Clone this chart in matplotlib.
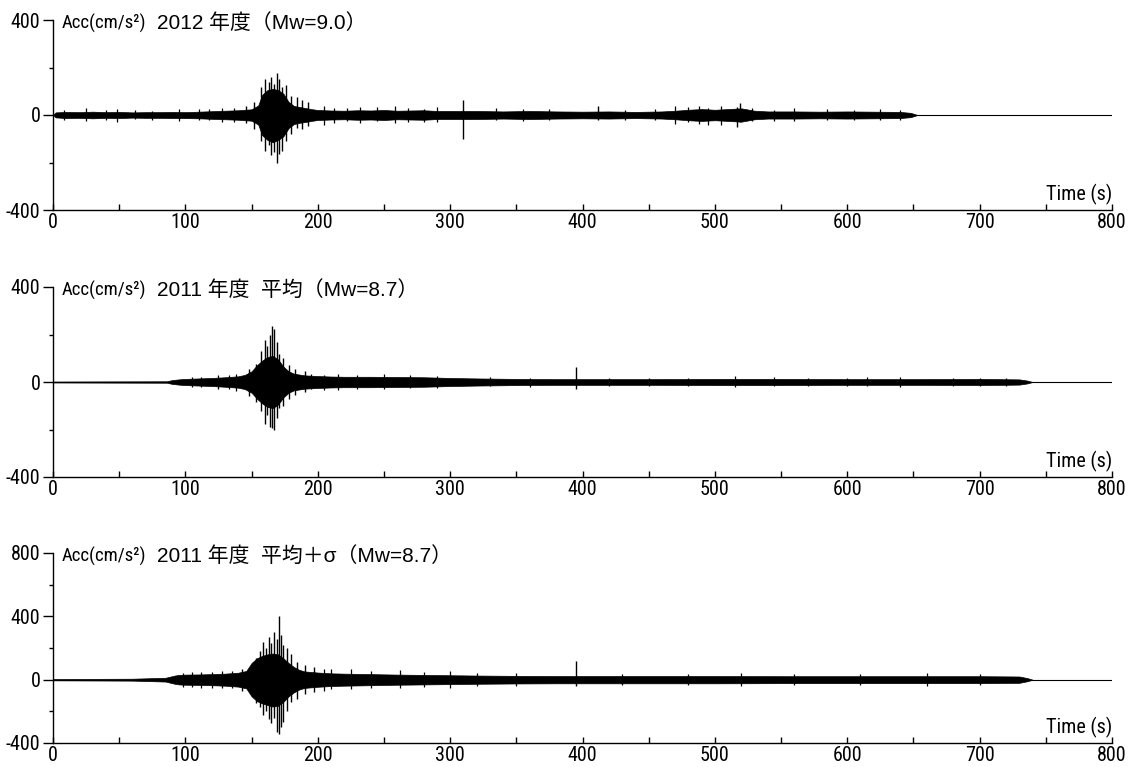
import matplotlib
matplotlib.use("Agg")
import matplotlib.pyplot as plt
from matplotlib import font_manager
from matplotlib.ticker import MultipleLocator

# ---- data (envelope of each record + visible peaks) ----
# 2012 (Mw=9.0)
t1 = [0, 2, 10, 20, 30, 40, 50, 60, 70, 80, 90, 100, 110, 120, 130, 140, 150, 155, 158, 162,
      166, 170, 174, 178, 182, 186, 190, 195, 200, 210, 220, 230, 240, 250, 260, 270, 280, 290, 300, 320,
      340, 360, 380, 400, 420, 440, 460, 470, 480, 490, 500, 510, 520, 530, 540, 560, 580, 600, 620, 640,
      648, 653]
up1 = [0, 11, 13, 12, 14, 12, 13, 11, 12, 12, 13, 12, 14, 16, 18, 20, 24, 40, 85, 105,
       110, 105, 90, 55, 38, 34, 30, 25, 21, 19, 18, 20, 19, 21, 18, 19, 20, 17, 17, 17,
       15, 17, 15, 14, 15, 13, 15, 18, 22, 25, 22, 25, 28, 18, 15, 15, 14, 15, 14, 13,
       9, 0]
lo1 = [0, -10, -13, -12, -14, -12, -13, -11, -12, -12, -13, -13, -14, -16, -18, -20, -24, -40, -85, -105,
       -115, -105, -90, -55, -38, -33, -30, -25, -21, -19, -18, -20, -19, -21, -18, -19, -20, -17, -17, -17,
       -15, -17, -15, -14, -15, -13, -15, -18, -22, -25, -22, -25, -28, -18, -15, -15, -14, -15, -14, -13,
       -9, 0]
pk_t1 = [146, 152, 157, 160, 163, 165, 167, 169, 171, 173, 176, 180, 184, 188, 193, 310, 412, 517, 519]
pk_hi1 = [38, 55, 120, 150, 140, 160, 130, 178, 150, 120, 125, 80, 75, 65, 55, 62, 40, 35, 50]
pk_lo1 = [-35, -60, -110, -150, -125, -170, -155, -200, -165, -150, -110, -80, -55, -60, -45, -100, -22, -50, -30]
rp_t1 = [8, 25, 40, 48, 62, 75, 95, 110, 118, 128, 137, 205, 212, 222, 232, 245, 258, 268, 280, 290,
         335, 355, 375, 432, 455, 470, 480, 488, 495, 505, 528, 545, 560, 585, 605, 625, 640]
rp_hi1 = [22, 28, 20, 25, 22, 18, 26, 24, 26, 30, 30, 40, 30, 28, 35, 32, 38, 30, 26, 32,
          28, 25, 24, 22, 24, 38, 35, 40, 30, 40, 30, 22, 28, 24, 22, 24, 22]
rp_lo1 = [-20, -25, -22, -28, -18, -22, -24, -22, -20, -30, -28, -40, -32, -26, -35, -25, -33, -28, -30, -30,
          -22, -24, -20, -20, -22, -38, -30, -38, -42, -42, -26, -24, -25, -22, -20, -22, -20]

# 2011 mean (Mw=8.7)
t2 = [0, 86, 90, 95, 100, 110, 120, 130, 140, 145, 150, 154, 158, 162, 166, 170, 174, 178, 182, 190,
      200, 210, 220, 240, 260, 280, 300, 320, 350, 380, 400, 450, 500, 550, 600, 650, 700, 730, 736, 740]
up2 = [2, 3, 8, 11, 13, 15, 17, 20, 24, 30, 45, 70, 90, 105, 110, 95, 65, 45, 35, 28,
       25, 23, 22, 22, 21, 20, 17, 15, 13, 12, 12, 12, 13, 13, 12, 12, 13, 11, 6, 0]
lo2 = [-2, -3, -8, -11, -13, -15, -17, -20, -24, -30, -45, -70, -90, -105, -110, -95, -65, -45, -35, -28,
       -25, -23, -22, -22, -21, -20, -17, -15, -13, -12, -12, -12, -13, -13, -12, -12, -13, -11, -6, 0]
pk_t2 = [148, 153, 157, 160, 162, 164, 165.5, 167, 169, 171, 174, 178, 183, 190, 395]
pk_hi2 = [55, 75, 130, 175, 150, 200, 236, 225, 170, 120, 100, 70, 55, 45, 65]
pk_lo2 = [-60, -85, -120, -175, -140, -190, -195, -200, -150, -110, -100, -70, -55, -40, -30]
rp_t2 = [105, 112, 125, 133, 138, 195, 205, 215, 230, 250, 270, 290, 330, 360, 420, 450, 480, 515, 545, 570,
         600, 615, 640, 680, 700, 720]
rp_hi2 = [20, 22, 28, 30, 35, 35, 30, 35, 30, 33, 28, 25, 20, 18, 18, 17, 18, 25, 20, 18,
          17, 20, 22, 18, 17, 18]
rp_lo2 = [-20, -20, -30, -28, -38, -30, -32, -35, -28, -30, -25, -24, -18, -20, -17, -18, -16, -22, -18, -16,
          -18, -17, -20, -16, -18, -16]

# 2011 mean + sigma (Mw=8.7)
t3 = [0, 60, 85, 92, 95, 100, 110, 120, 130, 140, 146, 150, 154, 158, 162, 166, 170, 174, 178, 182,
      186, 190, 200, 210, 220, 240, 260, 280, 300, 320, 350, 380, 400, 450, 500, 550, 600, 650, 700, 730,
      736, 740]
up3 = [4, 6, 12, 26, 30, 32, 33, 35, 38, 44, 55, 105, 135, 150, 160, 165, 160, 135, 105, 80,
       62, 52, 45, 40, 38, 35, 32, 30, 28, 26, 24, 23, 23, 23, 23, 22, 22, 22, 22, 20,
       10, 0]
lo3 = [-4, -6, -12, -26, -30, -32, -33, -35, -38, -44, -55, -105, -135, -150, -160, -170, -165, -140, -105, -80,
       -62, -52, -45, -40, -38, -35, -32, -30, -28, -26, -24, -23, -23, -23, -23, -22, -22, -22, -22, -20,
       -10, 0]
pk_t3 = [143, 150, 153, 156, 159, 161, 163, 165, 167, 169, 170.5, 172, 174, 177, 180, 184, 190, 197, 395]
pk_hi3 = [65, 100, 140, 180, 240, 200, 270, 230, 300, 260, 400, 280, 220, 200, 160, 110, 95, 80, 115]
pk_lo3 = [-70, -95, -150, -170, -220, -200, -250, -275, -240, -330, -340, -300, -270, -200, -140, -120, -90, -75, -40]
rp_t3 = [98, 105, 112, 120, 128, 135, 205, 210, 225, 240, 262, 280, 300, 320, 350, 430, 480, 520, 560, 610,
         660, 700]
rp_hi3 = [45, 50, 50, 48, 55, 55, 70, 65, 65, 55, 60, 50, 55, 45, 40, 35, 38, 45, 35, 36,
          40, 35]
rp_lo3 = [-45, -48, -50, -52, -55, -50, -70, -60, -60, -50, -55, -45, -50, -42, -38, -32, -35, -40, -35, -32,
          -40, -32]

titles = ["2012 年度（Mw=9.0）", "2011 年度  平均（Mw=8.7）", "2011 年度  平均＋σ（Mw=8.7）"]
ylims = [(-400, 400), (-400, 400), (-400, 800)]
ymajor = [[-400, 0, 400], [-400, 0, 400], [-400, 0, 400, 800]]
xticks = [0, 100, 200, 300, 400, 500, 600, 700, 800]

# ---- fonts: prefer a narrow sans for axis text ----
entries = font_manager.fontManager.ttflist
names = {f.name for f in entries}
narrow, stretch = "Liberation Sans", "normal"
for cand in ["Liberation Sans Narrow", "Arial Narrow", "Roboto Condensed", "Open Sans Condensed",
             "Noto Sans Condensed"]:
    if cand in names:
        narrow = cand
        break
else:
    for fam in ["Noto Sans", "Open Sans", "DejaVu Sans"]:
        if any(f.name == fam and str(f.stretch) in ("condensed", "semi-condensed", "extra-condensed", "500", "400")
               and str(f.stretch) != "normal" for f in entries):
            narrow, stretch = fam, "condensed"
            break

plt.rcParams["font.family"] = [narrow, "Noto Sans CJK JP", "DejaVu Sans"]
plt.rcParams["font.stretch"] = stretch
plt.rcParams["axes.unicode_minus"] = False
title_font = ["Liberation Sans", "Noto Sans CJK JP", "DejaVu Sans"]

fig = plt.figure(figsize=(11.37, 7.67), dpi=100)
W, H = 1137, 767
left, right = 53, 1112
boxes = [(20, 210), (287, 477), (553, 743)]

series = [(t1, up1, lo1, pk_t1, pk_hi1, pk_lo1, rp_t1, rp_hi1, rp_lo1),
          (t2, up2, lo2, pk_t2, pk_hi2, pk_lo2, rp_t2, rp_hi2, rp_lo2),
          (t3, up3, lo3, pk_t3, pk_hi3, pk_lo3, rp_t3, rp_hi3, rp_lo3)]

for i, (top, bot) in enumerate(boxes):
    ax = fig.add_axes([left / W, 1 - bot / H, (right - left) / W, (bot - top) / H])
    t, up, lo, pt, ph, pl, rt, rh, rl = series[i]
    ax.axhline(0, color="k", lw=0.8)
    ax.fill_between(t, lo, up, color="k", lw=0.5)
    ax.vlines(pt, pl, ph, color="k", lw=1.0)
    ax.vlines(rt, rl, rh, color="k", lw=0.9)

    ax.set_xlim(0, 800)
    ax.set_ylim(*ylims[i])
    for s in ("top", "right"):
        ax.spines[s].set_visible(False)
    for s in ("left", "bottom"):
        ax.spines[s].set_linewidth(1.0)

    ax.set_xticks(xticks)
    ax.xaxis.set_minor_locator(MultipleLocator(50))
    ax.set_yticks(ymajor[i])
    ax.yaxis.set_minor_locator(MultipleLocator(200))
    ax.tick_params(axis="x", which="both", direction="in", length=4, width=1.0,
                   labelsize=14.5, pad=2)
    ax.tick_params(axis="y", which="major", direction="out", length=7, width=1.0,
                   labelsize=14.5, pad=2)
    ax.tick_params(axis="y", which="minor", direction="out", length=3, width=1.0)

    ax.annotate("Acc(cm/s²)", xy=(0, 1), xycoords="axes fraction",
                xytext=(9, -3), textcoords="offset pixels", ha="left", va="center",
                fontsize=13.5)
    ax.annotate(titles[i], xy=(0, 1), xycoords="axes fraction",
                xytext=(104, -3), textcoords="offset pixels", ha="left", va="center",
                fontsize=15, family=title_font)
    ax.annotate("Time (s)", xy=(1, 0), xycoords="axes fraction",
                xytext=(0, 5), textcoords="offset pixels", ha="right", va="bottom",
                fontsize=14.5)

fig.savefig("out.png", dpi=100)
